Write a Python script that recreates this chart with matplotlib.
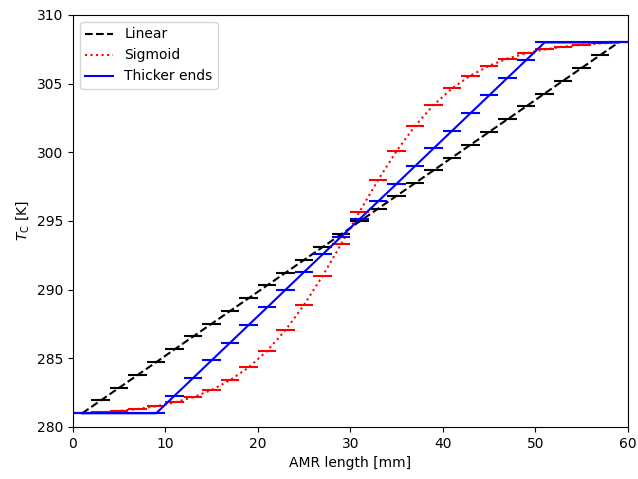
import numpy as np
import matplotlib
matplotlib.use('Agg')
import matplotlib.pyplot as plt

# Layer centres along the AMR [mm], 30 layers of 2 mm
layer_x = [1, 3, 5, 7, 9, 11, 13, 15, 17, 19, 21, 23, 25, 27, 29,
           31, 33, 35, 37, 39, 41, 43, 45, 47, 49, 51, 53, 55, 57, 59]
layer_width = 2.0

# Curie temperature per layer [K]
tc_linear = [281.0, 281.93, 282.86, 283.79, 284.72, 285.66, 286.59, 287.52,
             288.45, 289.38, 290.31, 291.24, 292.17, 293.1, 294.03, 294.97,
             295.9, 296.83, 297.76, 298.69, 299.62, 300.55, 301.48, 302.41,
             303.34, 304.28, 305.21, 306.14, 307.07, 308.0]
tc_sigmoid = [281.0, 281.07, 281.17, 281.31, 281.51, 281.79, 282.17, 282.7,
              283.41, 284.34, 285.55, 287.07, 288.9, 291.01, 293.31, 295.69,
              297.99, 300.1, 301.93, 303.45, 304.66, 305.59, 306.3, 306.83,
              307.21, 307.49, 307.69, 307.83, 307.93, 308.0]
tc_thick = [281.0, 281.0, 281.0, 281.0, 281.0, 282.29, 283.57, 284.86,
            286.14, 287.43, 288.71, 290.0, 291.29, 292.57, 293.86, 295.14,
            296.43, 297.71, 299.0, 300.29, 301.57, 302.86, 304.14, 305.43,
            306.71, 308.0, 308.0, 308.0, 308.0, 308.0]

series = [
    ('Linear', tc_linear, 'k', '--'),
    ('Sigmoid', tc_sigmoid, 'r', ':'),
    ('Thicker ends', tc_thick, 'b', '-'),
]

fig = plt.figure(figsize=(6.38, 4.79), dpi=100)
ax = fig.add_axes([0.1144, 0.1086, 0.8696, 0.8601])

x = np.array(layer_x, dtype=float)
for label, tc, color, ls in series:
    ax.plot(x, tc, color=color, linestyle=ls, lw=1.5, label=label)
    ax.hlines(tc, x - layer_width / 2, x + layer_width / 2, colors=color, lw=1.5)

ax.set_xlim(0, 60)
ax.set_ylim(280, 310)
ax.set_xlabel('AMR length [mm]')
ax.set_ylabel(r'$T_\mathrm{C}$ [K]')
ax.legend(loc='upper left')

plt.savefig('out.png', dpi=100)
